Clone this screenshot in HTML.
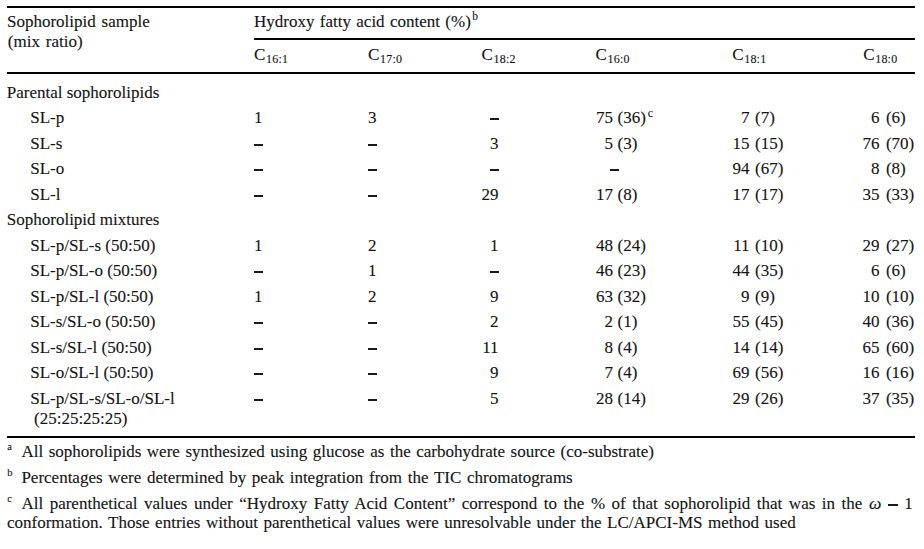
<!DOCTYPE html>
<html><head><meta charset="utf-8"><style>
html,body{margin:0;padding:0;background:#fff;}
body{width:924px;height:549px;position:relative;overflow:hidden;font-family:"Liberation Serif",serif;color:#141414;}
.t{position:absolute;white-space:nowrap;-webkit-text-stroke:0.12px #141414;}
.r{position:absolute;background:#000;}
.mi{display:inline-block;margin-left:1.5px;width:10.5px;height:1.8px;background:#141414;vertical-align:3.2px;}
.d{position:absolute;width:8.7px;height:2px;background:#1a1a1a;}
sub{font-size:12px;vertical-align:-3px;line-height:0;margin-left:0.7px;letter-spacing:0.2px;}
sup{font-size:11.5px;vertical-align:6.5px;line-height:0;margin-left:1.5px;}
sup.c{font-size:12px;margin-left:2px;}
</style></head><body>
<div class="r" style="left:7px;top:6px;width:908px;height:2px"></div><div class="r" style="left:254px;top:38px;width:661px;height:2px"></div><div class="r" style="left:7px;top:72px;width:908px;height:2px"></div><div class="r" style="left:7px;top:436px;width:908px;height:2px"></div>
<div class="t" style="left:7.00px;top:12.86px;font-size:17px;line-height:17px;word-spacing:1.5px">Sophorolipid sample</div><div class="t" style="left:7.80px;top:32.86px;font-size:17px;line-height:17px;word-spacing:1.6px">(mix ratio)</div><div class="t" style="left:254.00px;top:12.86px;font-size:17px;line-height:17px;word-spacing:1.1px">Hydroxy fatty acid content (%)<sup>b</sup></div><div class="t" style="left:254.00px;top:46.16px;font-size:17px;line-height:17px;">C<sub>16:1</sub></div><div class="t" style="left:368.00px;top:46.16px;font-size:17px;line-height:17px;">C<sub>17:0</sub></div><div class="t" style="left:481.50px;top:46.16px;font-size:17px;line-height:17px;">C<sub>18:2</sub></div><div class="t" style="left:595.50px;top:46.16px;font-size:17px;line-height:17px;">C<sub>16:0</sub></div><div class="t" style="left:732.20px;top:46.16px;font-size:17px;line-height:17px;">C<sub>18:1</sub></div><div class="t" style="left:863.20px;top:46.16px;font-size:17px;line-height:17px;">C<sub>18:0</sub></div><div class="t" style="left:6.80px;top:83.96px;font-size:17px;line-height:17px;">Parental sophorolipids</div><div class="t" style="left:30.20px;top:109.46px;font-size:17px;line-height:17px;">SL-p</div><div class="t" style="left:254.00px;top:109.46px;font-size:17px;line-height:17px;">1</div><div class="t" style="left:368.00px;top:109.46px;font-size:17px;line-height:17px;">3</div><div class="d" style="left:490.00px;top:118px"></div><div class="t" style="right:311.00px;top:109.46px;font-size:17px;line-height:17px;">75</div><div class="t" style="left:617.50px;top:109.46px;font-size:17px;line-height:17px;">(36)<sup class="c">c</sup></div><div class="t" style="right:174.50px;top:109.46px;font-size:17px;line-height:17px;">7</div><div class="t" style="left:755.00px;top:109.46px;font-size:17px;line-height:17px;">(7)</div><div class="t" style="right:44.50px;top:109.46px;font-size:17px;line-height:17px;">6</div><div class="t" style="left:885.90px;top:109.46px;font-size:17px;line-height:17px;">(6)</div><div class="t" style="left:30.20px;top:134.96px;font-size:17px;line-height:17px;">SL-s</div><div class="d" style="left:254.00px;top:144px"></div><div class="d" style="left:368.00px;top:144px"></div><div class="t" style="right:425.40px;top:134.96px;font-size:17px;line-height:17px;">3</div><div class="t" style="right:311.00px;top:134.96px;font-size:17px;line-height:17px;">5</div><div class="t" style="left:617.50px;top:134.96px;font-size:17px;line-height:17px;">(3)</div><div class="t" style="right:174.50px;top:134.96px;font-size:17px;line-height:17px;">15</div><div class="t" style="left:755.00px;top:134.96px;font-size:17px;line-height:17px;">(15)</div><div class="t" style="right:44.50px;top:134.96px;font-size:17px;line-height:17px;">76</div><div class="t" style="left:885.90px;top:134.96px;font-size:17px;line-height:17px;">(70)</div><div class="t" style="left:30.20px;top:160.46px;font-size:17px;line-height:17px;">SL-o</div><div class="d" style="left:254.00px;top:169px"></div><div class="d" style="left:368.00px;top:169px"></div><div class="d" style="left:490.00px;top:169px"></div><div class="d" style="left:610.20px;top:169px"></div><div class="t" style="right:174.50px;top:160.46px;font-size:17px;line-height:17px;">94</div><div class="t" style="left:755.00px;top:160.46px;font-size:17px;line-height:17px;">(67)</div><div class="t" style="right:44.50px;top:160.46px;font-size:17px;line-height:17px;">8</div><div class="t" style="left:885.90px;top:160.46px;font-size:17px;line-height:17px;">(8)</div><div class="t" style="left:30.20px;top:185.96px;font-size:17px;line-height:17px;">SL-l</div><div class="d" style="left:254.00px;top:195px"></div><div class="d" style="left:368.00px;top:195px"></div><div class="t" style="right:425.40px;top:185.96px;font-size:17px;line-height:17px;">29</div><div class="t" style="right:311.00px;top:185.96px;font-size:17px;line-height:17px;">17</div><div class="t" style="left:617.50px;top:185.96px;font-size:17px;line-height:17px;">(8)</div><div class="t" style="right:174.50px;top:185.96px;font-size:17px;line-height:17px;">17</div><div class="t" style="left:755.00px;top:185.96px;font-size:17px;line-height:17px;">(17)</div><div class="t" style="right:44.50px;top:185.96px;font-size:17px;line-height:17px;">35</div><div class="t" style="left:885.90px;top:185.96px;font-size:17px;line-height:17px;">(33)</div><div class="t" style="left:6.80px;top:211.46px;font-size:17px;line-height:17px;">Sophorolipid mixtures</div><div class="t" style="left:30.20px;top:236.96px;font-size:17px;line-height:17px;">SL-p/SL-s (50:50)</div><div class="t" style="left:254.00px;top:236.96px;font-size:17px;line-height:17px;">1</div><div class="t" style="left:368.00px;top:236.96px;font-size:17px;line-height:17px;">2</div><div class="t" style="right:425.40px;top:236.96px;font-size:17px;line-height:17px;">1</div><div class="t" style="right:311.00px;top:236.96px;font-size:17px;line-height:17px;">48</div><div class="t" style="left:617.50px;top:236.96px;font-size:17px;line-height:17px;">(24)</div><div class="t" style="right:174.50px;top:236.96px;font-size:17px;line-height:17px;">11</div><div class="t" style="left:755.00px;top:236.96px;font-size:17px;line-height:17px;">(10)</div><div class="t" style="right:44.50px;top:236.96px;font-size:17px;line-height:17px;">29</div><div class="t" style="left:885.90px;top:236.96px;font-size:17px;line-height:17px;">(27)</div><div class="t" style="left:30.20px;top:262.46px;font-size:17px;line-height:17px;">SL-p/SL-o (50:50)</div><div class="d" style="left:254.00px;top:271px"></div><div class="t" style="left:368.00px;top:262.46px;font-size:17px;line-height:17px;">1</div><div class="d" style="left:490.00px;top:271px"></div><div class="t" style="right:311.00px;top:262.46px;font-size:17px;line-height:17px;">46</div><div class="t" style="left:617.50px;top:262.46px;font-size:17px;line-height:17px;">(23)</div><div class="t" style="right:174.50px;top:262.46px;font-size:17px;line-height:17px;">44</div><div class="t" style="left:755.00px;top:262.46px;font-size:17px;line-height:17px;">(35)</div><div class="t" style="right:44.50px;top:262.46px;font-size:17px;line-height:17px;">6</div><div class="t" style="left:885.90px;top:262.46px;font-size:17px;line-height:17px;">(6)</div><div class="t" style="left:30.20px;top:287.96px;font-size:17px;line-height:17px;">SL-p/SL-l (50:50)</div><div class="t" style="left:254.00px;top:287.96px;font-size:17px;line-height:17px;">1</div><div class="t" style="left:368.00px;top:287.96px;font-size:17px;line-height:17px;">2</div><div class="t" style="right:425.40px;top:287.96px;font-size:17px;line-height:17px;">9</div><div class="t" style="right:311.00px;top:287.96px;font-size:17px;line-height:17px;">63</div><div class="t" style="left:617.50px;top:287.96px;font-size:17px;line-height:17px;">(32)</div><div class="t" style="right:174.50px;top:287.96px;font-size:17px;line-height:17px;">9</div><div class="t" style="left:755.00px;top:287.96px;font-size:17px;line-height:17px;">(9)</div><div class="t" style="right:44.50px;top:287.96px;font-size:17px;line-height:17px;">10</div><div class="t" style="left:885.90px;top:287.96px;font-size:17px;line-height:17px;">(10)</div><div class="t" style="left:30.20px;top:313.46px;font-size:17px;line-height:17px;">SL-s/SL-o (50:50)</div><div class="d" style="left:254.00px;top:322px"></div><div class="d" style="left:368.00px;top:322px"></div><div class="t" style="right:425.40px;top:313.46px;font-size:17px;line-height:17px;">2</div><div class="t" style="right:311.00px;top:313.46px;font-size:17px;line-height:17px;">2</div><div class="t" style="left:617.50px;top:313.46px;font-size:17px;line-height:17px;">(1)</div><div class="t" style="right:174.50px;top:313.46px;font-size:17px;line-height:17px;">55</div><div class="t" style="left:755.00px;top:313.46px;font-size:17px;line-height:17px;">(45)</div><div class="t" style="right:44.50px;top:313.46px;font-size:17px;line-height:17px;">40</div><div class="t" style="left:885.90px;top:313.46px;font-size:17px;line-height:17px;">(36)</div><div class="t" style="left:30.20px;top:338.96px;font-size:17px;line-height:17px;">SL-s/SL-l (50:50)</div><div class="d" style="left:254.00px;top:348px"></div><div class="d" style="left:368.00px;top:348px"></div><div class="t" style="right:425.40px;top:338.96px;font-size:17px;line-height:17px;">11</div><div class="t" style="right:311.00px;top:338.96px;font-size:17px;line-height:17px;">8</div><div class="t" style="left:617.50px;top:338.96px;font-size:17px;line-height:17px;">(4)</div><div class="t" style="right:174.50px;top:338.96px;font-size:17px;line-height:17px;">14</div><div class="t" style="left:755.00px;top:338.96px;font-size:17px;line-height:17px;">(14)</div><div class="t" style="right:44.50px;top:338.96px;font-size:17px;line-height:17px;">65</div><div class="t" style="left:885.90px;top:338.96px;font-size:17px;line-height:17px;">(60)</div><div class="t" style="left:30.20px;top:364.46px;font-size:17px;line-height:17px;">SL-o/SL-l (50:50)</div><div class="d" style="left:254.00px;top:373px"></div><div class="d" style="left:368.00px;top:373px"></div><div class="t" style="right:425.40px;top:364.46px;font-size:17px;line-height:17px;">9</div><div class="t" style="right:311.00px;top:364.46px;font-size:17px;line-height:17px;">7</div><div class="t" style="left:617.50px;top:364.46px;font-size:17px;line-height:17px;">(4)</div><div class="t" style="right:174.50px;top:364.46px;font-size:17px;line-height:17px;">69</div><div class="t" style="left:755.00px;top:364.46px;font-size:17px;line-height:17px;">(56)</div><div class="t" style="right:44.50px;top:364.46px;font-size:17px;line-height:17px;">16</div><div class="t" style="left:885.90px;top:364.46px;font-size:17px;line-height:17px;">(16)</div><div class="t" style="left:30.20px;top:389.96px;font-size:17px;line-height:17px;">SL-p/SL-s/SL-o/SL-l</div><div class="d" style="left:254.00px;top:399px"></div><div class="d" style="left:368.00px;top:399px"></div><div class="t" style="right:425.40px;top:389.96px;font-size:17px;line-height:17px;">5</div><div class="t" style="right:311.00px;top:389.96px;font-size:17px;line-height:17px;">28</div><div class="t" style="left:617.50px;top:389.96px;font-size:17px;line-height:17px;">(14)</div><div class="t" style="right:174.50px;top:389.96px;font-size:17px;line-height:17px;">29</div><div class="t" style="left:755.00px;top:389.96px;font-size:17px;line-height:17px;">(26)</div><div class="t" style="right:44.50px;top:389.96px;font-size:17px;line-height:17px;">37</div><div class="t" style="left:885.90px;top:389.96px;font-size:17px;line-height:17px;">(35)</div><div class="t" style="left:34.00px;top:409.56px;font-size:17px;line-height:17px;">(25:25:25:25)</div><div class="t" style="left:7.30px;top:441.61px;font-size:10.5px;line-height:10.5px;">a</div><div class="t" style="left:21.40px;top:442.76px;font-size:17px;line-height:17px;word-spacing:1.32px">All sophorolipids were synthesized using glucose as the carbohydrate source (co-substrate)</div><div class="t" style="left:7.30px;top:467.91px;font-size:10.5px;line-height:10.5px;">b</div><div class="t" style="left:21.40px;top:469.06px;font-size:17px;line-height:17px;word-spacing:1.45px">Percentages were determined by peak integration from the TIC chromatograms</div><div class="t" style="left:7.30px;top:494.11px;font-size:10.5px;line-height:10.5px;">c</div><div class="t" style="left:21.40px;top:494.56px;font-size:17px;line-height:17px;width:841px;text-align:justify;text-align-last:justify;white-space:normal">All parenthetical values under “Hydroxy Fatty Acid Content” correspond to the % of that sophorolipid that was in the</div><div class="t" style="left:869.00px;top:494.56px;font-size:17px;line-height:17px;font-size:17.5px"><i>ω</i></div><div class="d" style="left:888.2px;top:504px;width:10.3px;height:1.8px"></div><div class="t" style="left:904.30px;top:494.56px;font-size:17px;line-height:17px;">1</div><div class="t" style="left:7.00px;top:514.16px;font-size:17px;line-height:17px;word-spacing:1.27px">conformation. Those entries without parenthetical values were unresolvable under the LC/APCI-MS method used</div>
</body></html>
